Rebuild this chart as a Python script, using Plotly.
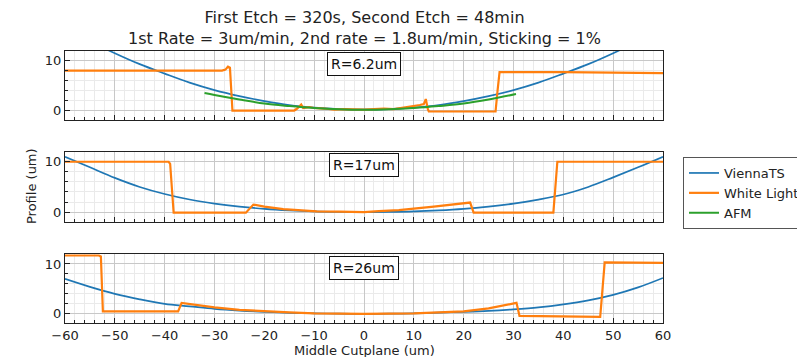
import plotly.graph_objects as go

# ---------------- data ----------------
vts_x = [-60, -55, -50, -45, -40, -35, -30, -25, -20, -15, -10, -5, 0,
         5, 10, 15, 20, 25, 30, 35, 40, 45, 50, 55, 60]
vts_y1 = [16.6, 13.9, 11.5, 9.3, 7.4, 5.6, 4.1, 2.9, 1.9, 1.1, 0.6, 0.3, 0.2,
          0.3, 0.6, 1.1, 1.9, 2.9, 4.1, 5.6, 7.4, 9.3, 11.5, 13.9, 16.6]
vts_y2 = [11.0, 8.9, 6.8, 5.0, 3.6, 2.5, 1.7, 1.1, 0.65, 0.35, 0.15, 0.05, 0.0,
          0.05, 0.15, 0.35, 0.65, 1.1, 1.7, 2.5, 3.5, 5.0, 6.9, 8.9, 11.0]
vts_y3 = [7.0, 5.4, 4.0, 2.9, 2.0, 1.5, 1.0, 0.65, 0.4, 0.2, 0.1, 0.03, 0.0,
          0.03, 0.1, 0.25, 0.4, 0.6, 0.9, 1.3, 1.9, 2.7, 3.8, 5.3, 7.2]

wl_x1 = [-60, -40, -28.5, -27.8, -27.3, -26.9, -26.4, -14.0, -13.4, -12.6, -12.2,
         -11.0, -10.0, -8.0, -6.0, -4.0, -2.0, 0.0, 2.0, 4.0, 6.0, 8.0, 10.0,
         11.2, 12.0, 12.4, 12.8, 13.0, 20.0, 26.4, 26.8, 27.2, 40.0, 50.0, 60.0]
wl_y1 = [8.0, 8.0, 8.0, 8.2, 8.8, 8.6, 0.0, 0.0, 0.4, 1.2, 0.5,
         0.7, 0.5, 0.4, 0.2, 0.3, 0.2, 0.2, 0.3, 0.4, 0.3, 0.6, 0.8,
         1.1, 1.3, 2.3, 0.3, -0.2, -0.2, -0.2, 4.0, 7.7, 7.7, 7.6, 7.5]

wl_x2 = [-60, -50, -39.2, -38.9, -38.2, -30.0, -23.7, -22.2, -20.0, -16.2, -12.0,
         -9.5, -5.0, 0.0, 3.0, 7.0, 14.0, 18.0, 21.3, 22.0, 30.0, 38.0, 38.8,
         45.0, 60.0]
wl_y2 = [10.0, 10.0, 10.0, 9.6, -0.1, -0.1, -0.1, 1.5, 1.1, 0.6, 0.3,
         0.15, 0.1, 0.0, 0.2, 0.4, 1.1, 1.5, 1.9, -0.1, -0.1, -0.1, 10.0,
         10.0, 10.0]

wl_x3 = [-60, -53.2, -52.8, -52.4, -45.0, -37.3, -36.6, -33.0, -30.0, -25.0,
         -20.0, -15.0, -10.0, 0.0, 10.0, 15.0, 20.0, 25.0, 30.6, 31.2, 40.0,
         47.4, 48.3, 55.0, 60.0]
wl_y3 = [11.7, 11.7, 11.5, 0.5, 0.5, 0.5, 2.2, 1.7, 1.3, 0.8,
         0.5, 0.3, 0.1, 0.0, 0.1, 0.3, 0.5, 1.1, 2.2, -0.4, -0.5,
         -0.6, 10.3, 10.3, 10.2]

afm_x = [-32, -30, -25, -20, -15, -10, -5, 0, 5, 10, 15, 20, 25, 30.5]
afm_y = [3.5, 3.1, 2.2, 1.4, 0.9, 0.5, 0.25, 0.15, 0.25, 0.5, 0.9, 1.4, 2.2, 3.3]

radii_labels = ["R=6.2um", "R=17um", "R=26um"]
title_lines = ["First Etch = 320s, Second Etch = 48min",
               "1st Rate = 3um/min, 2nd rate = 1.8um/min, Sticking = 1%"]
x_ticks = [-60, -50, -40, -30, -20, -10, 0, 10, 20, 30, 40, 50, 60]
y_ticks = [0, 10]

# ---------------- figure ----------------
BLUE, ORANGE, GREEN = "#1f77b4", "#ff7f0e", "#2ca02c"
FONT = "DejaVu Sans"
W, H = 797, 357

fig = go.Figure()
vts_list = [vts_y1, vts_y2, vts_y3]
wl_list = [(wl_x1, wl_y1), (wl_x2, wl_y2), (wl_x3, wl_y3)]
for i in range(3):
    xa = "x" if i == 0 else f"x{i+1}"
    ya = "y" if i == 0 else f"y{i+1}"
    fig.add_trace(go.Scatter(x=vts_x, y=vts_list[i], mode="lines", name="ViennaTS",
                             line=dict(color=BLUE, width=1.7, shape="spline", smoothing=1),
                             xaxis=xa, yaxis=ya, showlegend=(i == 0), legendrank=1))
    fig.add_trace(go.Scatter(x=wl_list[i][0], y=wl_list[i][1], mode="lines", name="White Light",
                             line=dict(color=ORANGE, width=2.2), xaxis=xa, yaxis=ya,
                             showlegend=(i == 0), legendrank=2))
    if i == 0:
        fig.add_trace(go.Scatter(x=afm_x, y=afm_y, mode="lines", name="AFM",
                                 line=dict(color=GREEN, width=2, shape="spline", smoothing=1),
                                 xaxis=xa, yaxis=ya, showlegend=True, legendrank=3))

x_dom = [65 / W, 663 / W]
rows_px = [(50.7, 120.0), (151.7, 221.7), (254.0, 323.3)]
MAJ_GRID = "#c8c8c8"
MIN_GRID = "#eaeaea"

layout = dict(
    width=W, height=H,
    margin=dict(l=0, r=0, t=0, b=0, autoexpand=False),
    paper_bgcolor="white", plot_bgcolor="white",
    font=dict(family=FONT, size=13, color="#222"),
    showlegend=True,
    legend=dict(x=683 / W, y=1 - 157 / H, xanchor="left", yanchor="top",
                bgcolor="white", bordercolor="#555", borderwidth=1,
                font=dict(family=FONT, size=13, color="#222"),
                tracegroupgap=0),
)

for i, (top, bot) in enumerate(rows_px):
    sfx = "" if i == 0 else str(i + 1)
    layout["xaxis" + sfx] = dict(
        domain=x_dom, range=[-60, 60], anchor="y" + sfx,
        tickmode="array", tickvals=x_ticks,
        ticktext=[str(v).replace("-", "\u2212") for v in x_ticks],
        showticklabels=(i == 2), ticks="inside", ticklen=5, tickcolor="#222",
        showline=True, linecolor="#222", linewidth=1, mirror=True,
        showgrid=True, gridcolor=MAJ_GRID, gridwidth=1, zeroline=False,
        minor=dict(dtick=2, tick0=0, ticks="inside", ticklen=3, tickcolor="#222",
                   showgrid=True, gridcolor=MIN_GRID, gridwidth=1),
        tickfont=dict(size=13, color="#222"),
        **({} if i == 2 else {"matches": "x3"}),
    )
    layout["yaxis" + sfx] = dict(
        domain=[1 - bot / H, 1 - top / H], range=[-1.9, 12], anchor="x" + sfx,
        tickmode="array", tickvals=y_ticks, ticks="inside", ticklen=5, tickcolor="#222",
        showline=True, linecolor="#222", linewidth=1, mirror=True,
        showgrid=True, gridcolor=MAJ_GRID, gridwidth=1, zeroline=False,
        minor=dict(dtick=2, tick0=0, ticks="inside", ticklen=3, tickcolor="#222",
                   showgrid=True, gridcolor=MIN_GRID, gridwidth=1),
        tickfont=dict(size=13, color="#222"),
    )

annotations = []
for i, lab in enumerate(radii_labels):
    sfx = "" if i == 0 else str(i + 1)
    annotations.append(dict(
        x=0, y=0.975, xref="x" + sfx, yref=f"y{sfx} domain",
        text=lab, showarrow=False, xanchor="center", yanchor="top",
        font=dict(family=FONT, size=14, color="#111"),
        bgcolor="white", bordercolor="#111", borderwidth=1, borderpad=3,
    ))
annotations.append(dict(
    x=364 / W, y=1 - 28 / H, xref="paper", yref="paper",
    text="<br>".join(title_lines), showarrow=False, xanchor="center", yanchor="middle",
    font=dict(family=FONT, size=16, color="#222"),
))
annotations.append(dict(
    x=31 / W, y=1 - 186 / H, xref="paper", yref="paper", text="Profile (um)",
    textangle=-90, showarrow=False, xanchor="center", yanchor="middle",
    font=dict(family=FONT, size=13, color="#222"),
))
annotations.append(dict(
    x=364 / W, y=1 - 350 / H, xref="paper", yref="paper", text="Middle Cutplane (um)",
    showarrow=False, xanchor="center", yanchor="middle",
    font=dict(family=FONT, size=13, color="#222"),
))
layout["annotations"] = annotations

fig.update_layout(**layout)
fig.write_html("out.html")
